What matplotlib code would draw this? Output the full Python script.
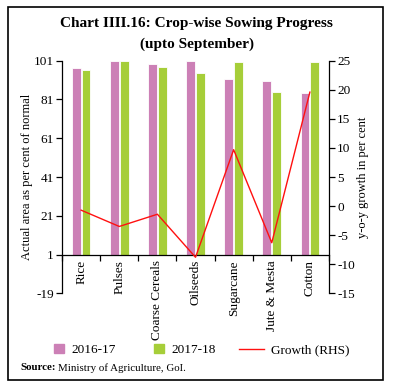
"""Crop-wise sowing progress: area as per cent of normal plus y-o-y growth."""

import matplotlib
matplotlib.use("Agg")
import matplotlib.pyplot as plt
import numpy as np
from matplotlib.lines import Line2D
from matplotlib.patches import Patch, Rectangle

crops = ["Rice", "Pulses", "Coarse Cereals", "Oilseeds", "Sugarcane", "Jute & Mesta", "Cotton"]
area_2016 = [97.1, 101, 99.3, 101, 91.5, 90.6, 84.6]
area_2017 = [96.2, 101, 97.8, 94.5, 100.2, 84.8, 100.2]
growth = [-0.7, -3.5, -1.4, -8.8, 9.7, -6.3, 19.6]

PINK = "#CC80B6"
GREEN = "#A6CE39"
RED = "#FF1010"
BASE = 1

plt.rcParams["font.family"] = ["Liberation Serif", "DejaVu Serif"]
plt.rcParams["axes.unicode_minus"] = False

fig = plt.figure(figsize=(3.93, 3.88), dpi=100)
ax = fig.add_axes([0.158, 0.244, 0.679, 0.5995])
ax2 = ax.twinx()

x = np.arange(len(crops))
w = 0.23
ax.bar(x - 0.13, np.array(area_2016) - BASE, w, bottom=BASE, color=PINK,
       edgecolor="white", linewidth=0.6, zorder=2)
ax.bar(x + 0.13, np.array(area_2017) - BASE, w, bottom=BASE, color=GREEN,
       edgecolor="white", linewidth=0.6, zorder=2)
ax2.plot(x, growth, color=RED, lw=1.0, zorder=3)

ax.set_xlim(-0.5, len(crops) - 0.5)
ax.set_ylim(-19, 101)
ax.set_yticks(np.arange(-19, 102, 20))
ax2.set_ylim(-15, 25)
ax2.set_yticks(np.arange(-15, 26, 5))

# x axis sits at the bars' base
ax.spines["bottom"].set_position(("data", BASE))
for s in ["top", "right"]:
    ax.spines[s].set_visible(False)
for s in ["top", "left", "bottom"]:
    ax2.spines[s].set_visible(False)
for sp in (ax.spines["left"], ax.spines["bottom"], ax2.spines["right"]):
    sp.set_linewidth(0.9)

ax.set_xticks(x)
ax.set_xticklabels(crops, rotation=90, fontsize=9.5)
ax.tick_params(axis="x", which="major", length=0, pad=4)
ax.set_xticks(np.arange(-0.5, len(crops), 1), minor=True)
ax.tick_params(axis="x", which="minor", length=4, direction="out", width=0.9)
ax.tick_params(axis="y", labelsize=9.5, length=4, width=0.9, pad=2)
ax2.tick_params(axis="y", labelsize=9.5, length=4, width=0.9, pad=2)

ax.set_ylabel("Actual area as per cent of normal", fontsize=9)
ax2.set_ylabel("y-o-y growth in per cent", fontsize=9)
ax.yaxis.set_label_coords(-0.108, 0.5)
ax2.yaxis.set_label_coords(1.106, 0.5)

fig.text(0.5, 1 - 24 / 388, "Chart IIII.16: Crop-wise Sowing Progress",
         ha="center", va="center", fontsize=11, fontweight="bold")
fig.text(0.5, 1 - 44 / 388, "(upto September)",
         ha="center", va="center", fontsize=11, fontweight="bold")

# legend: one entry per legend so each sits where it does in the original
entries = [
    (Patch(color=PINK, label="2016-17"), 54, 0.75),
    (Patch(color=GREEN, label="2017-18"), 154, 0.75),
    (Line2D([], [], color=RED, lw=1.0, label="Growth (RHS)"), 239, 1.9),
]
for handle, xpos, hl in entries:
    leg = fig.legend(handles=[handle], loc="center left",
                     bbox_to_anchor=(xpos / 393, 1 - 350 / 388),
                     frameon=False, fontsize=9.5, handlelength=hl,
                     handleheight=0.75, handletextpad=0.55,
                     borderpad=0, borderaxespad=0)

src = fig.text(20 / 393, 1 - 368 / 388, "Source:", fontsize=7.8,
               fontweight="bold", va="center")
fig.canvas.draw()
bb = src.get_window_extent()
fig.text(bb.x1 / fig.bbox.width + 0.006, 1 - 368 / 388,
         "Ministry of Agriculture, GoI.", fontsize=7.8, va="center")

fig.patches.append(Rectangle((8 / 393, 1 - 380 / 388), 375 / 393, 373 / 388,
                             transform=fig.transFigure, fill=False,
                             lw=1.2, ec="black"))

fig.savefig("out.png", dpi=100)
plt.close(fig)
